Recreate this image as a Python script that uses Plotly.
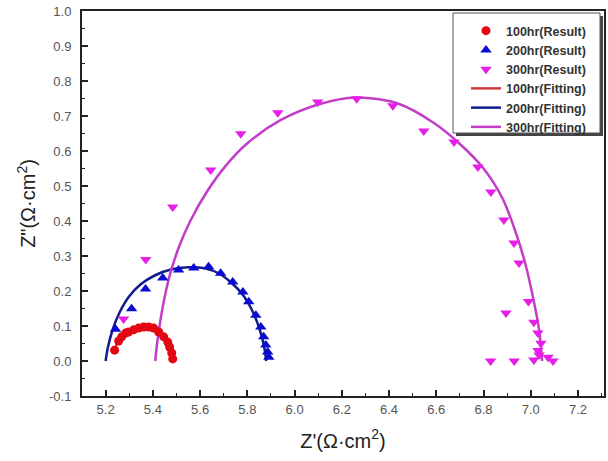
import plotly.graph_objects as go

# ---- data ----
r100_x = [5.238, 5.255, 5.268, 5.285, 5.297, 5.319, 5.340, 5.361, 5.382, 5.403, 5.425, 5.446, 5.463, 5.471, 5.480, 5.484]
r100_y = [0.031, 0.057, 0.069, 0.080, 0.083, 0.089, 0.094, 0.097, 0.097, 0.094, 0.083, 0.069, 0.054, 0.040, 0.023, 0.006]

r200_x = [5.242, 5.310, 5.369, 5.442, 5.509, 5.573, 5.636, 5.687, 5.738, 5.781, 5.806, 5.836, 5.857, 5.869, 5.878, 5.886, 5.891]
r200_y = [0.091, 0.149, 0.206, 0.237, 0.260, 0.266, 0.269, 0.251, 0.226, 0.197, 0.169, 0.131, 0.097, 0.069, 0.046, 0.026, 0.011]

r300_x = [5.276, 5.370, 5.484, 5.645, 5.772, 5.929, 6.098, 6.263, 6.416, 6.547, 6.675, 6.776, 6.831, 6.886, 6.929,
          6.950, 6.895, 6.990, 7.013, 7.030, 7.043, 7.030, 7.035, 7.013, 7.073, 7.094, 6.830, 6.930]
r300_y = [0.120, 0.290, 0.440, 0.546, 0.649, 0.709, 0.740, 0.749, 0.729, 0.657, 0.626, 0.554, 0.483, 0.403, 0.337,
          0.280, 0.137, 0.170, 0.111, 0.080, 0.051, 0.030, 0.017, 0.003, 0.011, 0.000, 0.000, 0.000]

f100_x = [5.232, 5.25, 5.28, 5.32, 5.36, 5.40, 5.43, 5.455, 5.47, 5.478]
f100_y = [0.020, 0.052, 0.076, 0.091, 0.097, 0.094, 0.080, 0.058, 0.032, 0.005]

f200_x = [5.20, 5.21, 5.23, 5.26, 5.30, 5.35, 5.41, 5.48, 5.55, 5.62, 5.68, 5.73, 5.78, 5.82, 5.85, 5.87, 5.88]
f200_y = [0.000, 0.040, 0.090, 0.140, 0.185, 0.220, 0.245, 0.262, 0.268, 0.265, 0.250, 0.225, 0.190, 0.145, 0.095, 0.045, 0.000]

f300_x = [5.41, 5.42, 5.44, 5.47, 5.51, 5.56, 5.63, 5.71, 5.80, 5.94, 6.10, 6.26, 6.44, 6.59, 6.70, 6.80, 6.88, 6.94, 6.98, 7.01, 7.035, 7.048]
f300_y = [0.000, 0.060, 0.148, 0.241, 0.325, 0.402, 0.485, 0.559, 0.622, 0.688, 0.733, 0.753, 0.735, 0.680, 0.620, 0.550, 0.465, 0.360, 0.270, 0.180, 0.090, 0.000]

x_ticks = [5.2, 5.4, 5.6, 5.8, 6.0, 6.2, 6.4, 6.6, 6.8, 7.0, 7.2]
y_ticks = [-0.1, 0.0, 0.1, 0.2, 0.3, 0.4, 0.5, 0.6, 0.7, 0.8, 0.9, 1.0]

RED = "#e30613"
BLUE = "#0a0ad0"
MAG = "#e61ee6"
RED_L = "#d03a3a"
BLUE_L = "#0f1c8c"
MAG_L = "#c23cc8"

FONT = "Arial, Liberation Sans, sans-serif"

fig = go.Figure()

# fitted lines (drawn first)
fig.add_trace(go.Scatter(x=f100_x, y=f100_y, mode="lines", name="100hr(Fitting)", legendrank=4,
                         line=dict(color=RED_L, width=2.5, shape="spline", smoothing=0.9)))
fig.add_trace(go.Scatter(x=f200_x, y=f200_y, mode="lines", name="200hr(Fitting)", legendrank=5,
                         line=dict(color=BLUE_L, width=2.5, shape="spline", smoothing=0.9)))
fig.add_trace(go.Scatter(x=f300_x, y=f300_y, mode="lines", name="300hr(Fitting)", legendrank=6,
                         line=dict(color=MAG_L, width=2.5, shape="spline", smoothing=0.9)))

# measured points
fig.add_trace(go.Scatter(x=r100_x, y=r100_y, mode="markers", name="100hr(Result)", legendrank=1,
                         marker=dict(symbol="circle", size=9, color=RED)))
fig.add_trace(go.Scatter(x=r200_x, y=r200_y, mode="markers", name="200hr(Result)", legendrank=2,
                         marker=dict(symbol="triangle-up", size=10, color=BLUE)))
fig.add_trace(go.Scatter(x=r300_x, y=r300_y, mode="markers", name="300hr(Result)", legendrank=3,
                         marker=dict(symbol="triangle-down", size=10, color=MAG)))

axis_common = dict(
    showline=True, linecolor="#222", linewidth=2, mirror=True,
    ticks="inside", ticklen=6, tickwidth=1.5, tickcolor="#222",
    showgrid=False, zeroline=False, automargin=False,
    tickfont=dict(family=FONT, size=13, color="#555"),
)

fig.update_xaxes(
    range=[5.1, 7.31], tickvals=x_ticks, ticktext=[f"{v:.1f}" for v in x_ticks],
    minor=dict(dtick=0.1, tick0=5.1, ticks="inside", ticklen=3, tickcolor="#222", tickwidth=1.2),
    title=dict(text="Z'(Ω·cm<sup>2</sup>)", font=dict(family=FONT, size=20, color="#222"), standoff=18),
    ticklabelstandoff=0,
    **axis_common,
)
fig.update_yaxes(
    range=[-0.1, 1.0], tickvals=y_ticks, ticktext=[f"{v:.1f}" for v in y_ticks],
    minor=dict(dtick=0.05, tick0=-0.1, ticks="inside", ticklen=3, tickcolor="#222", tickwidth=1.2),
    title=dict(text='Z"(Ω·cm<sup>2</sup>)', font=dict(family=FONT, size=20, color="#222"), standoff=8),
    ticklabelstandoff=6,
    **axis_common,
)

# legend frame (Origin-style box with shadow), in plot-area paper coordinates
L, R, T, B = 82, 604, 11, 396
def px(x):
    return (x - L) / (R - L)
def py(y):
    return (B - y) / (B - T)

fig.add_shape(type="rect", xref="paper", yref="paper", layer="above",
              x0=px(456), x1=px(603), y0=py(136), y1=py(16),
              fillcolor="#444", line=dict(width=0))
fig.add_shape(type="rect", xref="paper", yref="paper", layer="above",
              x0=px(453), x1=px(600), y0=py(133), y1=py(13),
              fillcolor="white", line=dict(color="#555", width=1))

fig.update_layout(
    width=608, height=461,
    margin=dict(l=L, r=608 - R, t=T, b=461 - B),
    paper_bgcolor="white", plot_bgcolor="white",
    showlegend=True,
    legend=dict(
        x=px(466), xanchor="left", y=py(16), yanchor="top",
        bgcolor="rgba(0,0,0,0)", borderwidth=0,
        font=dict(family=FONT, size=12.5, color="#333", weight="bold"),
        tracegroupgap=0, itemwidth=30,
    ),
)

fig.write_html("out.html", config={"displayModeBar": False},
               post_script="document.body.style.margin='0px';")
